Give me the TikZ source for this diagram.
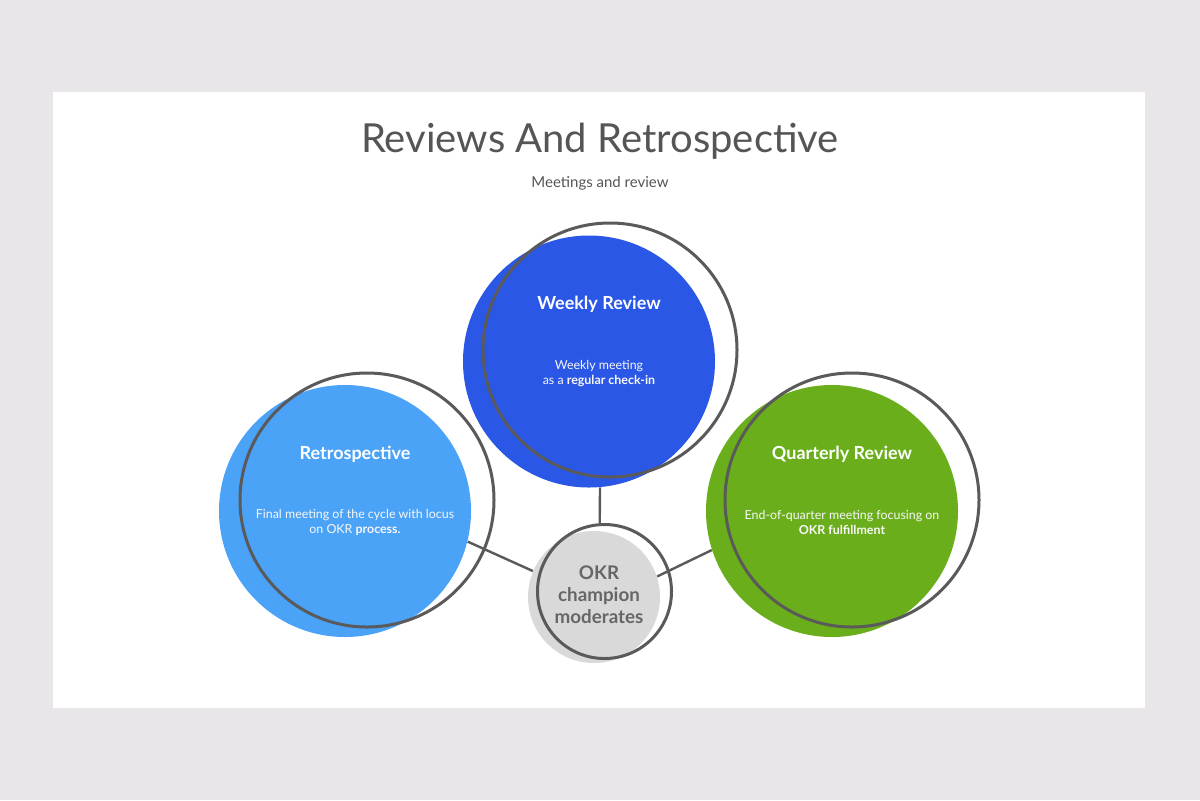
\documentclass[tikz,border=0pt]{standalone}
\usepackage{fontspec}
\setmainfont{Lato}
\definecolor{bg}{HTML}{E8E6E8}
\definecolor{wkblue}{HTML}{2B57E6}
\definecolor{ltblue}{HTML}{4BA3F8}
\definecolor{qgreen}{HTML}{6AAF1B}
\definecolor{cgray}{HTML}{D9D9D9}
\definecolor{ring}{HTML}{5A5A5A}
\definecolor{ttl}{HTML}{555555}
\tikzset{
  fillc/.style={circle,inner sep=0pt,minimum size=#1},
  ringc/.style={circle,inner sep=0pt,minimum size=#1,draw=ring,line width=1.5pt},
  link/.style={draw=ring,line width=1.2pt},
  head/.style={text=white,font=\bfseries\fontsize{9}{11}\selectfont,align=center},
  body/.style={text=white!94!gray,font=\fontsize{6.2}{7.5}\selectfont,align=center},
}
\begin{document}
\begin{tikzpicture}[x=0.5pt,y=-0.5pt]
\useasboundingbox (0,0) rectangle (1200,800);
\fill[bg] (0,0) rectangle (1200,800);
\fill[white] (53,92) rectangle (1145,708);
% title
\node[text=ttl,font=\fontsize{20}{24}\selectfont] (title) at (600,141) {Reviews And Retrospective};
\node[text=ttl,font=\fontsize{7.5}{9}\selectfont] (sub) at (600,183) {Meetings and review};
% fill circles (positions only, drawn later)
\path node[fillc=126pt] (wk) at (589,361.5) {}
      node[fillc=126pt] (rt) at (345,511) {}
      node[fillc=126pt] (qr) at (832,511) {}
      node[fillc=66pt] (ct) at (594,597) {};
\path node[ringc=67pt,draw=none] (ctp) at (604.5,591.5) {};
% connectors
\draw[link] (wk.-85.5) -- (ctp.94.7);
\draw[link] (rt.-14.6) -- (ct.157.7);
\draw[link] (qr.198.6) -- (ct.18.4);
% fills
\fill[wkblue] (wk.center) circle[radius=126];
\fill[ltblue] (rt.center) circle[radius=126];
\fill[qgreen] (qr.center) circle[radius=126];
\fill[cgray] (ct.center) circle[radius=66];
% rings
\node[ringc=127pt] (wkr) at (610,350) {};
\node[ringc=127pt] (rtr) at (367,500) {};
\node[ringc=127pt] (qrr) at (852,500) {};
\node[ringc=67pt] (ctr) at (604.5,591.5) {};
% texts
\node[head] (wkh) at (599,304) {Weekly Review};
\node[body] (wkb) at (599,373.5) {Weekly meeting\\as a \textbf{regular check-in}};
\node[head] (rth) at (355,454) {Retrospective};
\node[body] (rtb) at (355,522.5) {Final meeting of the cycle with locus\\on OKR \textbf{process.}};
\node[head] (qrh) at (842,454) {Quarterly Review};
\node[body] (qrb) at (842,522.5) {End-of-quarter meeting focusing on\\\textbf{OKR fulfillment}};
\node[text=ttl!90,font=\bfseries\fontsize{9.4}{11}\selectfont,align=center] (cth) at (599,595) {OKR\\champion\\moderates};
\end{tikzpicture}
\end{document}
